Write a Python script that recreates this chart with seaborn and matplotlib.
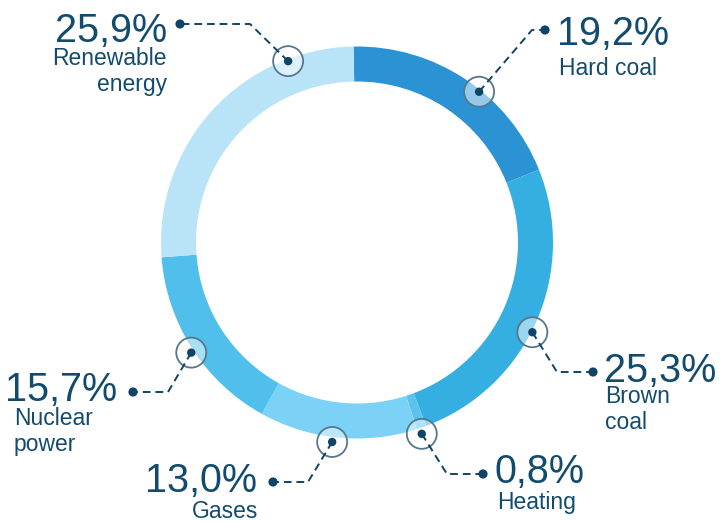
import matplotlib
matplotlib.use("Agg")
import numpy as np
import matplotlib.pyplot as plt
import seaborn as sns
from matplotlib.patches import Circle

# ---- data ----
sources = ["Hard coal", "Brown coal", "Heating", "Gases", "Nuclear power", "Renewable energy"]
shares = [19.2, 25.3, 0.8, 13.0, 15.7, 25.9]
value_labels = ["19,2%", "25,3%", "0,8%", "13,0%", "15,7%", "25,9%"]
name_labels = ["Hard coal", "Brown\ncoal", "Heating", "Gases",
               "Nuclear\npower", "Renewable\nenergy"]
seg_colors = ["#2b93d3", "#35aee2", "#5cc3ee", "#7bd2f6", "#50bfeb", "#b9e4f8"]

# ---- style ----
sns.set_theme(style="white")
plt.rcParams["font.family"] = ["Liberation Sans", "DejaVu Sans"]
palette = sns.color_palette(seg_colors)

W, H = 725, 522
TXT = "#124b6e"
DOT = "#0f4466"

fig = plt.figure(figsize=(W / 100, H / 100), dpi=100)
ax = fig.add_axes([0, 0, 1, 1])

cx, cy_pix = 357, 242.5
R_OUT, RING = 196, 35


def P(x, y):
    return x, H - y


ax.pie(shares, colors=palette, startangle=91, counterclock=False,
       radius=R_OUT, center=P(cx, cy_pix),
       wedgeprops=dict(width=RING, linewidth=0, antialiased=True))

# ---- annotation layout (pixel coords) ----
marker_angle = [39.0, 117.1, 161.3, 187.1, 236.4, 339.2]
marker_rad = [194, 197, 202, 201, 199, 194]
elbows = [(532, 30), (557, 372), (447, 474), (308, 482), (168, 392), (250, 24)]
ends = [(545, 30), (593, 372), (483, 474), (273, 482), (133, 392), (180, 24)]
num_pos = [(557, 45, "left"), (604, 382, "left"), (495, 483, "left"),
           (257, 492, "right"), (117, 401, "right"), (167, 42, "right")]
name_pos = [(559, 75, "left"), (605, 409, "left"), (497, 509, "left"),
            (258, 518, "right"), (14, 431, "left"), (167, 71, "right")]
LINE_GAP = 20

for i in range(len(shares)):
    a = np.deg2rad(marker_angle[i])
    mx = cx + marker_rad[i] * np.sin(a)
    my = cy_pix - marker_rad[i] * np.cos(a)
    # ring marker
    ax.add_patch(Circle(P(mx, my), 15, facecolor=(1, 1, 1, 0.5),
                        edgecolor="#55788d", linewidth=1.3, zorder=5))
    ax.add_patch(Circle(P(mx, my), 4.2, facecolor=DOT, edgecolor="none", zorder=7))
    # dashed leader
    xs = [mx, elbows[i][0], ends[i][0]]
    ys = [H - my, H - elbows[i][1], H - ends[i][1]]
    ax.plot(xs, ys, color=DOT, linewidth=1.4, dashes=(4, 2.5), zorder=6,
            solid_capstyle="butt")
    ax.add_patch(Circle(P(*ends[i]), 4.6, facecolor=DOT, edgecolor="none", zorder=7))
    # texts
    nx, ny, nha = num_pos[i]
    ax.text(*P(nx, ny), value_labels[i], fontsize=28.5, color=TXT,
            ha=nha, va="baseline")
    lx, ly, lha = name_pos[i]
    n_lines = name_labels[i].count("\n") + 1
    ax.text(*P(lx, ly + LINE_GAP * (n_lines - 1)), name_labels[i], fontsize=16.5,
            color=TXT, ha=lha, va="baseline", linespacing=1.15)

ax.set_xlim(0, W)
ax.set_ylim(0, H)
ax.set_aspect("equal")
ax.axis("off")
fig.savefig("out.png", dpi=100, facecolor="white")
